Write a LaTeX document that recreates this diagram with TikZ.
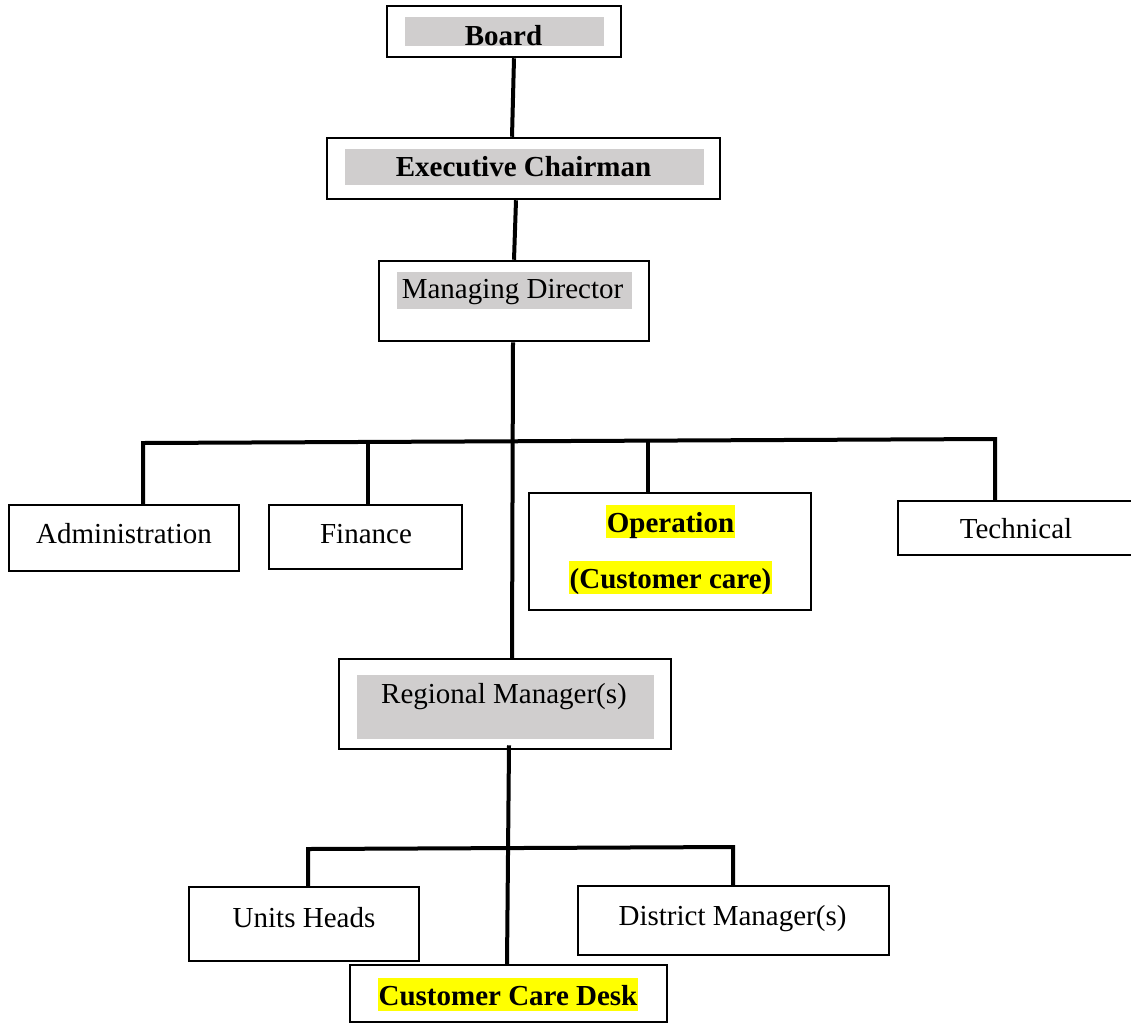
\documentclass[tikz,border=0pt]{standalone}
\usepackage{fontspec}
\setmainfont{Liberation Serif}
\definecolor{bandgrey}{RGB}{208,206,206}
\definecolor{hilite}{RGB}{255,255,0}
\begin{document}
\begin{tikzpicture}[x=1pt,y=-1pt,
  unit/.style={draw=black, line width=2.5pt, rectangle, inner sep=0pt},
  txt/.style={font=\fontsize{29}{34}\selectfont, inner sep=0pt, anchor=base},
  marked/.style={txt, fill=hilite, inner xsep=1pt, text height=27pt, text depth=6pt},
  link/.style={line width=4pt, line join=miter}
]
\useasboundingbox (0,0) rectangle (1131,1023);

% ---- boxes ----
\node[unit, minimum width=234, minimum height=51] (board) at (504,31.5) {};
\node[unit, minimum width=393, minimum height=61] (exec)  at (523.5,168.5) {};
\node[unit, minimum width=270, minimum height=80] (md)    at (514,301) {};
\node[unit, minimum width=230, minimum height=66] (admin) at (124,538) {};
\node[unit, minimum width=193, minimum height=64] (fin)   at (365.5,537) {};
\node[unit, minimum width=282, minimum height=117] (ops)  at (670,551.5) {};
\node[unit, minimum width=247, minimum height=54] (tech)  at (1021.5,528) {};
\node[unit, minimum width=332, minimum height=90] (rm)    at (505,704) {};
\node[unit, minimum width=230, minimum height=74] (units) at (304,924) {};
\node[unit, minimum width=311, minimum height=69] (dist)  at (733.5,920.5) {};
\node[unit, minimum width=317, minimum height=57] (desk)  at (508.5,993.5) {};

% ---- grey title bands ----
\fill[bandgrey] (405,17) rectangle (604,46);
\fill[bandgrey] (345,149) rectangle (704,185);
\fill[bandgrey] (397,272) rectangle (632,309);
\fill[bandgrey] (357,675) rectangle (654,739);

% ---- texts ----
\node[txt] (boardT) at (503.5,45) {\textbf{Board}};
\node[txt] (execT)  at (523.5,176) {\textbf{Executive Chairman}};
\node[txt] (mdT)    at (512.5,298) {Managing Director};
\node[txt] (adminT) at (124,543) {Administration};
\node[txt] (finT)   at (366,543) {Finance};
\node[marked] (opsT1) at (670.5,532) {\textbf{Operation}};
\node[marked] (opsT2) at (670.5,588) {\textbf{(Customer care)}};
\node[txt] (techT)  at (1016,538) {Technical};
\node[txt] (rmT)    at (504,703) {Regional Manager(s)};
\node[txt] (unitsT) at (304,927) {Units Heads};
\node[txt] (distT)  at (732.5,925) {District Manager(s)};
\node[marked] (deskT) at (508,1005) {\textbf{Customer Care Desk}};

% ---- junction points of the two branch bars ----
\coordinate (barL)  at (143,443);
\coordinate (barR)  at (995,439);
\coordinate (bar2L) at (308,849);
\coordinate (bar2R) at (733,847);

% ---- connectors ----
\draw[link] ([xshift=10pt]board.south) -- ([xshift=-11.5pt]exec.north);
\draw[link] ([xshift=-7.5pt]exec.south) -- (md.north);
\draw[link] ([xshift=-1pt]md.south) -- ([xshift=7pt]rm.north);

\draw[link] ([xshift=19pt]admin.north) -- (barL) -- (barR) -- ([xshift=-26.5pt]tech.north);
\draw[link] ([xshift=2.5pt]fin.north) -- ([xshift=2.5pt]fin.north |- barL);
\draw[link] ([xshift=-22pt]ops.north) -- ([xshift=-22pt]ops.north |- barR);

\draw[link] ([xshift=4pt,yshift=5pt]rm.south) -- ([xshift=-1.5pt]desk.north);
\draw[link] ([xshift=4pt]units.north) -- (bar2L) -- (bar2R) -- ([xshift=-0.5pt]dist.north);
\end{tikzpicture}
\end{document}
